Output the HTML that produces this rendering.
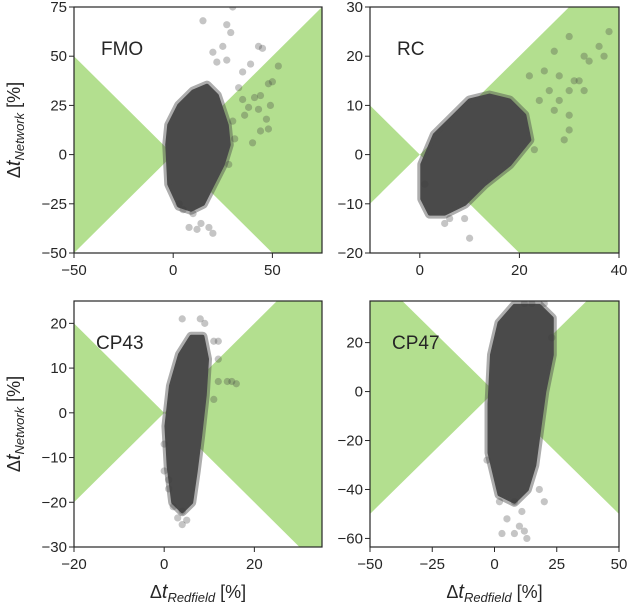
<!DOCTYPE html>
<html><head><meta charset="utf-8"><style>
html,body{margin:0;padding:0;background:#fff;overflow:hidden;width:630px;height:606px}
svg{display:block}
text{font-family:"Liberation Sans",sans-serif;fill:#262626}
</style></head><body>
<svg id="fig" width="630" height="606" viewBox="0 0 630 606" xmlns="http://www.w3.org/2000/svg"></svg>
<script>
// ---- data ----
const fmoXDomain=[-50,75], fmoYDomain=[-50,75];
const fmoXTicks=[-50,0,50], fmoYTicks=[-50,-25,0,25,50,75];
const fmoCore=[[-3,5],[-2,15],[3,25],[10,32],[17,35],[22,30],[27,15],[28,5],[25,-5],[20,-15],[15,-25],[9,-28],[3,-26],[-2,-15]];
const fmoOut=[[30,75],[15,68],[27,66],[29,62],[25,55],[43,55],[45,54],[20,52],[22,47],[27,48],[35,42],[39,46],[53,45],[48,36],[44,30],[50,37],[41,29],[49,25],[43,23],[47,18],[48,13],[44,12],[35,28],[38,24],[30,17],[40,6],[28,-5],[10,-30],[14,-35],[18,-37],[8,-37],[12,-38],[20,-40],[5,-28],[3,-25],[33,34],[36,20],[31,8]];
const rcXDomain=[-10,40], rcYDomain=[-20,30];
const rcXTicks=[0,20,40], rcYTicks=[-20,-10,0,10,20,30];
const rcCore=[[0.5,-9],[0.5,-2],[3,4],[7,8],[10,11],[14,12],[18,11],[21,8],[22,3],[18,-2],[13,-6],[9,-10],[5,-12],[2,-12]];
const rcOut=[[38,25],[30,24],[36,22],[27,21],[33,20],[34,19],[37,20],[25,17],[22,16],[28,16],[31,15],[30,13],[33,13],[28,11],[24,11],[27,9],[30,8],[30,5],[29,3],[23,1],[6,-13],[5,-14],[9,-13],[10,-17],[1,-6],[26,13],[32,15]];
const cp43XDomain=[-20,35], cp43YDomain=[-30,25];
const cp43XTicks=[-20,0,20], cp43YTicks=[-30,-20,-10,0,10,20];
const cp43Core=[[0.5,-3],[1.5,6],[3.5,13],[6,17],[8.5,17],[9.5,12],[9,4],[8,-5],[7,-13],[6,-20],[4,-22],[2,-20],[1,-12]];
const cp43Out=[[4,21],[8,21],[9,20],[11,16],[12,16],[12,12],[14,7],[15,7],[16,6.5],[12,7],[11,3],[0,-7],[0,-13],[1,-17],[2,-21],[4,-22],[3,-23.5],[4,-25],[5,-24],[1,-15]];
const cp47XDomain=[-50,50], cp47YDomain=[-63.5,37];
const cp47XTicks=[-50,-25,0,25,50], cp47YTicks=[-60,-40,-20,0,20];
const cp47Core=[[-2,-5],[-1,15],[2,28],[8,35],[18,35],[23,30],[23,15],[20,0],[18,-15],[16,-30],[13,-40],[8,-45],[2,-42],[-2,-25]];
const cp47Out=[[8,-45],[2,-45],[11,-49],[5,-52],[10,-55],[8,-58],[12,-57],[3,-58],[13,-60],[20,-45],[18,-40],[15,36],[20,36],[12,36],[-3,-28],[23,22]];

const NS="http://www.w3.org/2000/svg";
const svg=document.getElementById('fig');
function el(t,a,p){const e=document.createElementNS(NS,t);for(const k in a)e.setAttribute(k,a[k]);(p||svg).appendChild(e);return e;}
function fmt(v){return v<0?'\u2212'+(-v):''+v;}

function panel(name,box,xd,yd,xt,yt,core,out,xlab,ylab){
  const [L,T,R,B]=box;
  const sx=v=>L+(v-xd[0])/(xd[1]-xd[0])*(R-L);
  const sy=v=>B-(v-yd[0])/(yd[1]-yd[0])*(B-T);
  const g=el('g',{});
  
  
  const cid='clip-'+name;
  const cp=el('clipPath',{id:cid},g);el('rect',{x:L,y:T,width:R-L,height:B-T},cp);
  const inner=el('g',{'clip-path':'url(#'+cid+')'},g);
  const M=200;
  const wl=el('polygon',{points:[[0,0],[-M,M],[-M,-M]].map(p=>sx(p[0])+','+sy(p[1])).join(' '),fill:'#b3df8f'},inner);
  
  
  const wr=el('polygon',{points:[[0,0],[M,M],[M,-M]].map(p=>sx(p[0])+','+sy(p[1])).join(' '),fill:'#b3df8f'},inner);
  
  
  const pts=core.map(p=>sx(p[0])+','+sy(p[1])).join(' ');
  el('polygon',{points:pts,fill:'#4a4a4a',stroke:'#4a4a4a','stroke-opacity':0.45,'stroke-width':10,'stroke-linejoin':'round'},inner);
  const c=el('polygon',{points:pts,fill:'#4a4a4a',stroke:'#4a4a4a','stroke-width':4,'stroke-linejoin':'round'},inner);
  
  
  out.forEach(p=>{
    const d=el('circle',{cx:sx(p[0]),cy:sy(p[1]),r:3.6,fill:'#404040','fill-opacity':0.3},inner);
    
    
  });
  el('rect',{x:L,y:T,width:R-L,height:B-T,fill:'none',stroke:'#262626','stroke-width':1.2},g);
  xt.forEach(v=>{const x=sx(v);el('line',{x1:x,x2:x,y1:B,y2:B+5,stroke:'#262626'},g);
    const t=el('text',{x:x,y:B+22,'text-anchor':'middle','font-size':15},g);t.textContent=fmt(v);
    
    });
  yt.forEach(v=>{const y=sy(v);el('line',{x1:L-5,x2:L,y1:y,y2:y,stroke:'#262626'},g);
    const t=el('text',{x:L-7,y:y+5,'text-anchor':'end','font-size':15},g);t.textContent=fmt(v);
    
    });
  const lab=el('text',{x:L+(name==='cp43'||name==='cp47'?22:27),y:T+48,'font-size':19},g);
  lab.textContent=name.toUpperCase();
  
  
  if(xlab){const t=el('text',{x:(L+R)/2,y:598,'text-anchor':'middle','font-size':18},g);
    t.innerHTML='\u0394<tspan font-style="italic" font-size="20">t</tspan><tspan font-style="italic" font-size="13" dy="4">Redfield</tspan><tspan dy="-4"> [%]</tspan>';
    
    }
  if(ylab){const cy=(T+B)/2;const t=el('text',{x:0,y:0,'text-anchor':'middle','font-size':18,transform:'translate(20,'+cy+') rotate(-90)'},g);
    t.innerHTML='\u0394<tspan font-style="italic" font-size="20">t</tspan><tspan font-style="italic" font-size="13" dy="4">Network</tspan><tspan dy="-4"> [%]</tspan>';
    
    }
}
panel('fmo',[74,7,322,253],fmoXDomain,fmoYDomain,fmoXTicks,fmoYTicks,fmoCore,fmoOut,false,true);
panel('rc',[370,7,619,253],rcXDomain,rcYDomain,rcXTicks,rcYTicks,rcCore,rcOut,false,false);
panel('cp43',[74,301,322,547],cp43XDomain,cp43YDomain,cp43XTicks,cp43YTicks,cp43Core,cp43Out,true,true);
panel('cp47',[370,301,619,547],cp47XDomain,cp47YDomain,cp47XTicks,cp47YTicks,cp47Core,cp47Out,true,false);
</script>
</body></html>
